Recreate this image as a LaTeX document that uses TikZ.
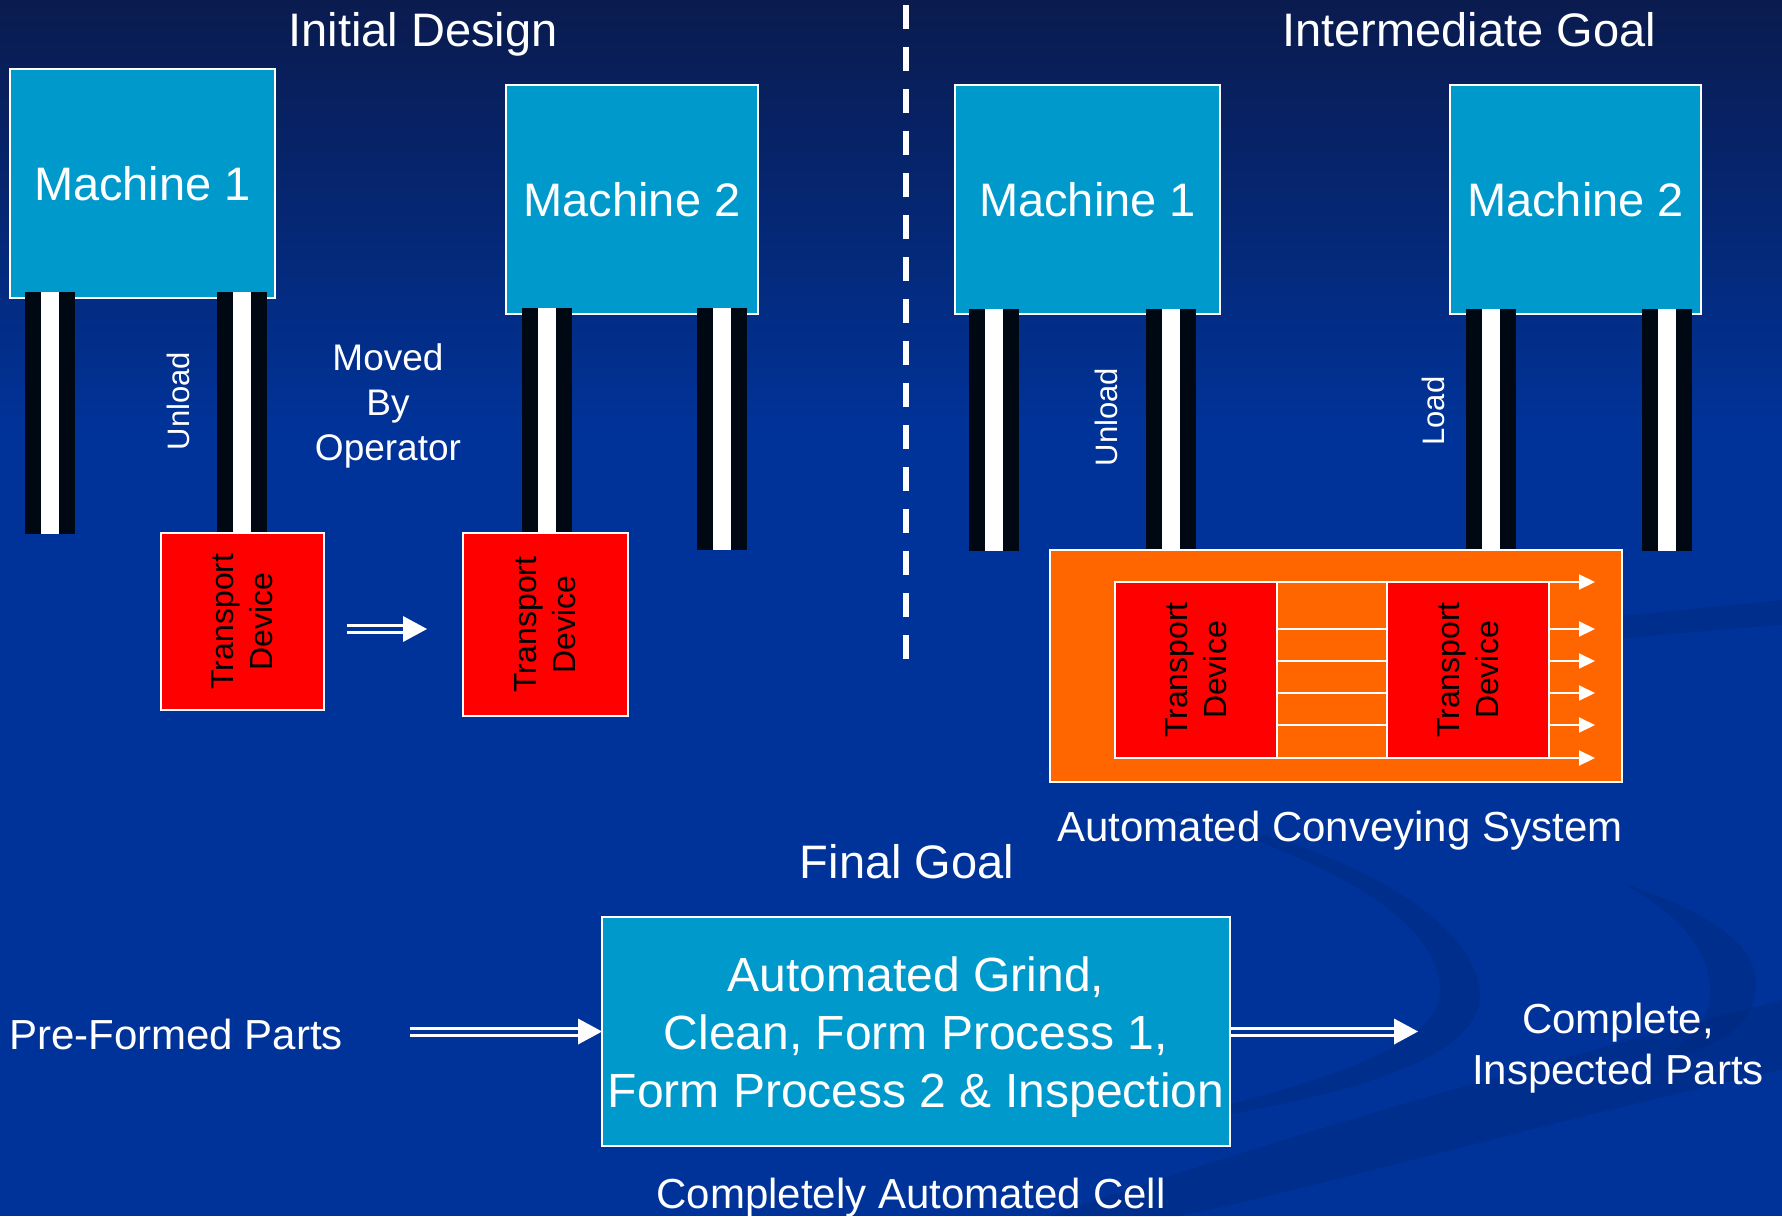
\documentclass[tikz,border=0pt]{standalone}
\usepackage{fontspec}
\setmainfont{Liberation Sans}
\usetikzlibrary{arrows.meta,calc}
\definecolor{bgblue}{RGB}{0,51,153}
\definecolor{bgtop}{RGB}{10,27,78}
\definecolor{swirl}{RGB}{0,38,120}
\definecolor{mcyan}{RGB}{0,153,204}
\definecolor{legblack}{RGB}{0,8,20}
\definecolor{conorange}{RGB}{255,102,0}
\newcommand\fsz[2]{\fontsize{#1}{#2}\selectfont}
\newcommand\drawleg[3]{%
  \fill[legblack] (#1,#2) rectangle ({#1+50},#3);
  \fill[white] ({#1+16},#2) rectangle ({#1+34},#3);}
\newcommand\dblarrow[2]{%
  \draw[white, line width=3pt] ($(#1)+(0,-3.5)$) -- ($(#2)+(-21,-3.5)$);
  \draw[white, line width=3pt] ($(#1)+(0,3.5)$) -- ($(#2)+(-21,3.5)$);
  \fill[white] (#2) -- ($(#2)+(-24,-13)$) -- ($(#2)+(-24,13)$) -- cycle;}
\tikzset{
  machine/.style={draw=white, line width=2pt, fill=mcyan, text=white, inner sep=0pt, outer sep=0pt, font=\fsz{47}{56}},
  tdbox/.style={draw=white, line width=2pt, fill=red, inner sep=0pt, outer sep=0pt},
  tdtext/.style={rotate=90, text=black, align=center, font=\fsz{32}{39}},
  lbl/.style={text=white, align=center, inner sep=0pt},
  sidelbl/.style={rotate=90, text=white, font=\fsz{31}{37}, inner sep=0pt},
  conv/.style={draw=white, line width=2pt, -{Triangle[length=16pt,width=15pt]}},
}
\begin{document}
\begin{tikzpicture}[x=1pt,y=-1pt]
\useasboundingbox (0,0) rectangle (1782,1216);
% background
\fill[bgblue] (0,0) rectangle (1782,1216);
\shade[top color=bgtop, bottom color=bgblue] (0,0) rectangle (1782,430);
% swirls
\fill[swirl, opacity=0.35] (1165,809) .. controls (1360,850) and (1470,920) .. (1480,990)
  .. controls (1485,1060) and (1350,1100) .. (1100,1135)
  .. controls (1330,1085) and (1440,1045) .. (1440,990)
  .. controls (1440,920) and (1330,860) .. (1165,809) -- cycle;
\fill[swirl, opacity=0.35] (1622,883) .. controls (1720,915) and (1760,950) .. (1756,990)
  .. controls (1752,1030) and (1710,1050) .. (1665,1057)
  .. controls (1700,1035) and (1712,1010) .. (1710,985)
  .. controls (1705,940) and (1670,910) .. (1622,883) -- cycle;
\fill[swirl, opacity=0.35] (1050,1216) .. controls (1300,1130) and (1550,1060) .. (1782,1000)
  -- (1782,1070) .. controls (1550,1120) and (1350,1180) .. (1180,1216) -- cycle;
\fill[swirl, opacity=0.35] (1440,640) .. controls (1560,620) and (1680,610) .. (1782,600)
  -- (1782,625) .. controls (1680,632) and (1560,645) .. (1440,660) -- cycle;
% dashed divider
\coordinate (dtop) at (906,5);
\coordinate (dbot) at (906,665);
\draw[white, line width=6pt, dash pattern=on 24pt off 18pt] (dtop) -- (dbot);
% titles
\node[lbl, anchor=base, font=\fsz{47}{56}] (tInit) at (423,46) {Initial Design};
\node[lbl, anchor=base, font=\fsz{47}{56}] (tInter) at (1469,46) {Intermediate Goal};
\node[lbl, anchor=base, font=\fsz{47}{56}] (tFinal) at (907,878) {Final Goal};
% machines
\node[machine, minimum width=265pt, minimum height=229pt] (m1i) at (142.5,183.5) {Machine 1};
\node[machine, minimum width=252pt, minimum height=229pt] (m2i) at (632,199.5) {Machine 2};
\node[machine, minimum width=265pt, minimum height=229pt] (m1f) at (1087.5,199.5) {Machine 1};
\node[machine, minimum width=251pt, minimum height=229pt] (m2f) at (1575.5,199.5) {Machine 2};
% legs
\drawleg{25}{292}{534}
\drawleg{217}{292}{534}
\drawleg{522}{308}{534}
\drawleg{697}{308}{550}
\drawleg{969}{309}{551}
\drawleg{1146}{309}{551}
\drawleg{1466}{309}{551}
\drawleg{1642}{309}{551}
% initial transport devices
\node[tdbox, minimum width=163pt, minimum height=177pt] (td1i) at (242.5,621.5) {};
\node[tdtext] (td1it) at (td1i.center) {Transport\\Device};
\node[tdbox, minimum width=165pt, minimum height=183pt] (td2i) at (545.5,624.5) {};
\node[tdtext] (td2it) at (td2i.center) {Transport\\Device};
% side labels
\node[sidelbl] (ul1) at (178,401) {Unload};
\node[sidelbl] (ul2) at (1106,417) {Unload};
\node[sidelbl] (ld2) at (1433,411) {Load};
\node[lbl, font=\fsz{37}{45}] (mbo) at (388,406) {Moved\\By\\Operator};
% small move arrow
\coordinate (sa1) at (347,629);
\coordinate (sa2) at (427,629);
\dblarrow{sa1}{sa2}
% conveying system
\node[draw=white, line width=2pt, fill=conorange, minimum width=572pt, minimum height=232pt, inner sep=0pt, outer sep=0pt] (conv) at (1336,666) {};
\node[tdbox, minimum width=162pt, minimum height=176pt] (tdc1) at (1196,670) {};
\foreach \dy in {0,47,79,111,143,176}{
  \draw[conv] (tdc1.north east) ++(0,\dy) -- +(318,0);
}
\node[tdbox, minimum width=162pt, minimum height=176pt] (tdc2) at (1468,670) {};
\node[tdtext] (tdc1t) at (tdc1.center) {Transport\\Device};
\node[tdtext] (tdc2t) at (tdc2.center) {Transport\\Device};
\node[lbl, anchor=base, font=\fsz{42}{50}] (acs) at (1340,841) {Automated Conveying System};
% final goal
\node[machine, minimum width=628pt, minimum height=229pt, inner sep=0pt] (fg) at (916,1031.5) {};
\node[lbl, font=\fsz{48}{58}] (fgt) at (916,1037) {Automated Grind,\\Clean, Form Process 1,\\Form Process 2 \& Inspection};
\node[lbl, anchor=base, font=\fsz{42}{50}] (cac) at (911,1208) {Completely Automated Cell};
\node[lbl, anchor=base west, font=\fsz{42}{50}] (pfp) at (9,1049) {Pre-Formed Parts};
\node[lbl, font=\fsz{42}{51}] (cip) at (1618,1048) {Complete,\\Inspected Parts};
\coordinate (pfa) at (410,1031.5);
\coordinate (cpa) at (1418,1031.5);
\dblarrow{pfa}{fg.west}
\dblarrow{fg.east}{cpa}
\end{tikzpicture}
\end{document}
